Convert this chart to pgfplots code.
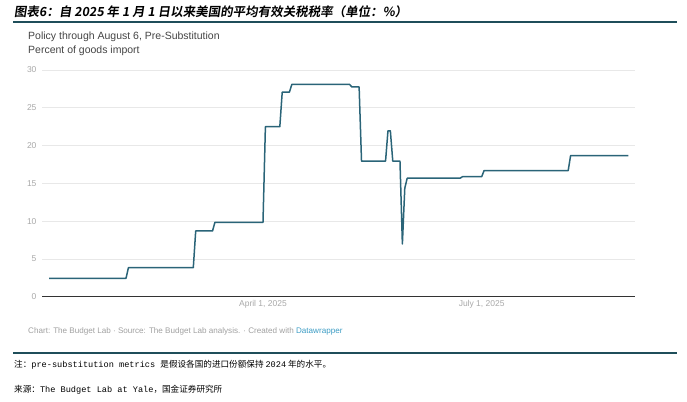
\documentclass[border=0pt]{standalone}
\usepackage{pgfplots}
\pgfplotsset{compat=1.18}
\usepackage{fontspec}
\setmainfont{Liberation Sans}
\setmonofont{Liberation Mono}
\newfontfamily\cjk{Noto Sans CJK SC}
\newfontfamily\cjktitle{Noto Sans CJK SC Bold}[FakeSlant=0.15]

\definecolor{linecol}{HTML}{2A6478}
\definecolor{rulecol}{HTML}{1F4E5A}
\definecolor{subcol}{HTML}{444444}
\definecolor{tickcol}{HTML}{A8A8A8}
\definecolor{footcol}{HTML}{A0A0A0}
\definecolor{dwcol}{HTML}{3C9CC4}
\definecolor{gridcol}{HTML}{E8E8E8}

% day of year (Jan 1 = 0), average effective tariff rate in percent
\pgfplotstableread{
day rate
1 2.43
33 2.43
34 3.84
61 3.84
62 8.70
69 8.70
70 9.85
90 9.85
91 22.5
97 22.5
98 27.07
101 27.07
102 28.10
126 28.10
127 27.75
130 27.75
131 17.95
141 17.95
142 21.95
143 21.95
144 17.95
147 17.95
148 6.98
149 14.35
150 15.68
172 15.68
173 15.88
181 15.88
182 16.69
217 16.69
218 18.68
242 18.68
}\ratedata

\begin{document}
\begin{tikzpicture}[x=1pt,y=1pt]
\path[use as bounding box] (0,0) rectangle (687,401);

\node[anchor=west, inner sep=0] at (14,389)
  {\cjktitle\fontsize{12.5}{14}\selectfont 图表6：自 2025 年 1 月 1 日以来美国的平均有效关税税率（单位：\%）};
\draw[rulecol, line width=1.1pt] (13,379) -- (677,379);

\node[anchor=west, inner sep=0, text=subcol] at (28,364)
  {\fontsize{10.5}{12}\selectfont Policy through August 6, Pre-Substitution};
\node[anchor=west, inner sep=0, text=subcol] at (28,350)
  {\fontsize{10.5}{12}\selectfont Percent of goods import};

\begin{axis}[
    at={(42pt,104.3pt)}, anchor=south west,
    scale only axis,
    width=593pt, height=226.7pt,
    xmin=-1.96, xmax=244.8,
    ymin=0, ymax=30,
    axis x line*=bottom, axis y line*=left,
    y axis line style={draw=none},
    x axis line style={color=black!80, line width=0.9pt},
    major tick length=0pt,
    xtick={90,181},
    xticklabels={{April 1, 2025},{July 1, 2025}},
    ytick={0,5,...,30},
    ymajorgrids=true,
    grid style={gridcol, line width=0.8pt},
    tick label style={font=\fontsize{8.5}{10}\selectfont, text=tickcol},
    yticklabel style={xshift=-2pt},
    /pgf/number format/assume math mode=true,
    clip=false,
]
\addplot[linecol, line width=1.5pt, line join=round] table[x=day, y=rate] {\ratedata};
\end{axis}

\node[anchor=west, inner sep=0, text=footcol] at (28,70)
  {\fontsize{8.1}{9}\selectfont Chart: The Budget Lab · Source: The Budget Lab analysis. · Created with \textcolor{dwcol}{Datawrapper}};

\draw[rulecol, line width=1.1pt] (13,48) -- (677,48);

\node[anchor=west, inner sep=0] at (14,36)
  {\fontsize{8.6}{9}\selectfont\cjk 注：{\ttfamily pre-substitution metrics }是假设各国的进口份额保持 {\ttfamily 2024} 年的水平。};
\node[anchor=west, inner sep=0] at (14,11)
  {\fontsize{8.6}{9}\selectfont\cjk 来源：{\ttfamily The Budget Lab at Yale}，国金证券研究所};
\end{tikzpicture}
\end{document}
